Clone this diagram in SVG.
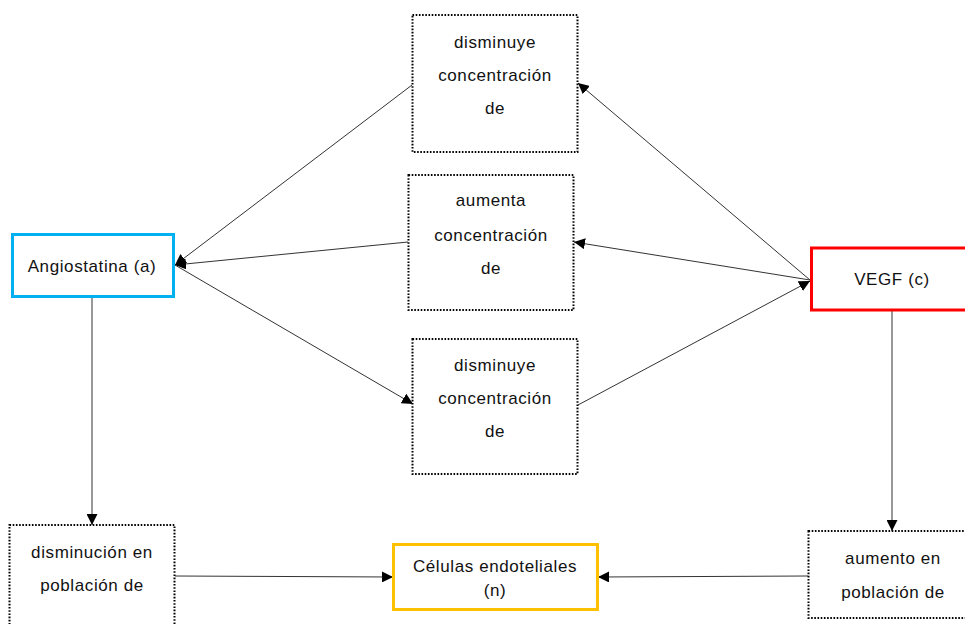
<svg xmlns="http://www.w3.org/2000/svg" width="965" height="624" viewBox="0 0 965 624">
  <style>
    .lbl { font-family: "Liberation Sans", Arial, sans-serif; font-size: 17px; fill: #111111; text-anchor: middle; letter-spacing: 0.6px; }
    .dot { fill: #ffffff; stroke: #000000; stroke-width: 2; stroke-dasharray: 1.6 1.6; }
    .edge { fill: none; stroke: #333333; stroke-width: 1; marker-end: url(#arrow); }
  </style>
  <defs>
    <marker id="arrow" viewBox="0 0 10 10" refX="10" refY="5" markerWidth="11" markerHeight="11" markerUnits="userSpaceOnUse" orient="auto">
      <path d="M0,0 L10,5 L0,10 z" fill="#000000"/>
    </marker>
  </defs>
  <rect width="965" height="624" fill="#ffffff"/>

  <g id="connectors">
    <line class="edge" x1="412" y1="85" x2="175" y2="265"/>
    <line class="edge" x1="408" y1="242" x2="175" y2="265"/>
    <line class="edge" x1="175" y1="265" x2="413" y2="404"/>
    <line class="edge" x1="810" y1="280" x2="578" y2="83"/>
    <line class="edge" x1="810" y1="280" x2="574" y2="242"/>
    <line class="edge" x1="578" y1="405" x2="810" y2="281"/>
    <line class="edge" x1="92" y1="297" x2="92" y2="525"/>
    <line class="edge" x1="892" y1="310" x2="892" y2="531"/>
    <line class="edge" x1="175" y1="576" x2="393" y2="577"/>
    <line class="edge" x1="808" y1="576" x2="598" y2="577"/>
  </g>

  <g id="disminuye-top">
    <rect class="dot" x="412.5" y="15" width="165" height="137"/>
    <text class="lbl" x="495" y="48">disminuye</text>
    <text class="lbl" x="495" y="81">concentración</text>
    <text class="lbl" x="495" y="114">de</text>
  </g>

  <g id="aumenta-mid">
    <rect class="dot" x="408.5" y="175" width="165" height="135"/>
    <text class="lbl" x="491" y="206">aumenta</text>
    <text class="lbl" x="491" y="241">concentración</text>
    <text class="lbl" x="491" y="274">de</text>
  </g>

  <g id="disminuye-bottom">
    <rect class="dot" x="412.5" y="339" width="165" height="135"/>
    <text class="lbl" x="495" y="371">disminuye</text>
    <text class="lbl" x="495" y="404">concentración</text>
    <text class="lbl" x="495" y="437">de</text>
  </g>

  <g id="angiostatina">
    <rect x="12.5" y="234.5" width="161" height="62" fill="#ffffff" stroke="#00b0f0" stroke-width="3"/>
    <text class="lbl" x="92" y="272">Angiostatina (a)</text>
  </g>

  <g id="vegf">
    <rect x="811.5" y="248" width="160" height="62" fill="#ffffff" stroke="#ff0000" stroke-width="3"/>
    <text class="lbl" x="892" y="285">VEGF (c)</text>
  </g>

  <g id="disminucion-poblacion">
    <rect class="dot" x="9.5" y="525" width="165" height="120"/>
    <text class="lbl" x="92" y="558">disminución en</text>
    <text class="lbl" x="92" y="591">población de</text>
  </g>

  <g id="celulas">
    <rect x="393.5" y="544.5" width="204" height="65" fill="#ffffff" stroke="#ffc000" stroke-width="3"/>
    <text class="lbl" x="495" y="572">Células endoteliales</text>
    <text class="lbl" x="495" y="596">(n)</text>
  </g>

  <g id="aumento-poblacion">
    <rect class="dot" x="808.5" y="531" width="165" height="87"/>
    <text class="lbl" x="893" y="564">aumento en</text>
    <text class="lbl" x="893" y="598">población de</text>
  </g>
</svg>
